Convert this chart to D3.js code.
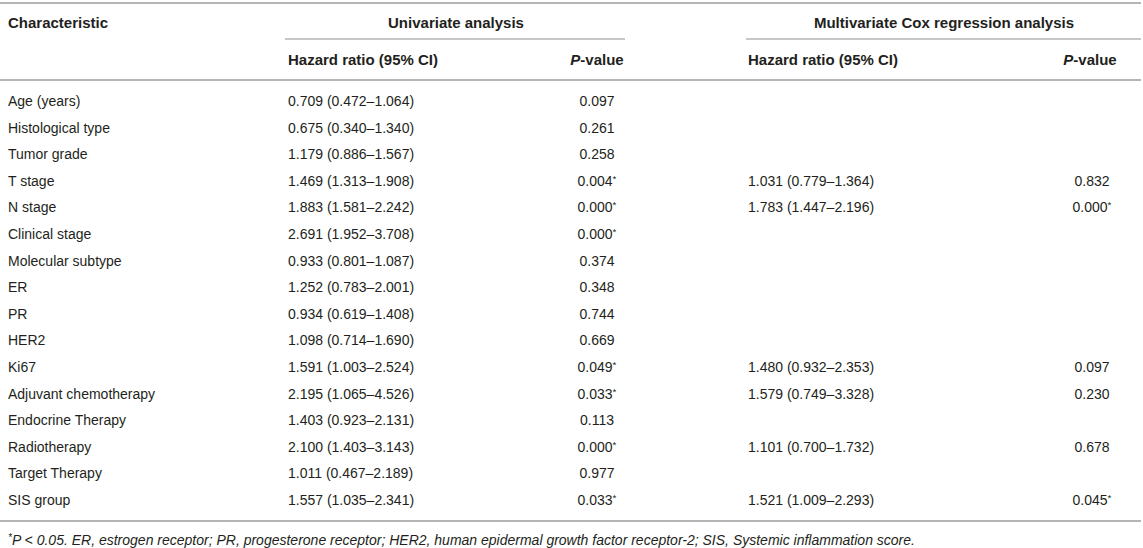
<!DOCTYPE html>
<html>
<head>
<meta charset="utf-8">
<script src="https://cdn.jsdelivr.net/npm/d3@7"></script>
<style>
  body { margin: 0; background: #fff; }
  text { font-family: "Liberation Sans", Arial, sans-serif; fill: #231f20; }
  .head { font-weight: bold; }
</style>
</head>
<body>
<div id="tbl"></div>
<script>
var width = 1143
var height = 548

const characteristics = ["Age (years)", "Histological type", "Tumor grade", "T stage", "N stage",
  "Clinical stage", "Molecular subtype", "ER", "PR", "HER2", "Ki67", "Adjuvant chemotherapy",
  "Endocrine Therapy", "Radiotherapy", "Target Therapy", "SIS group"];
const uniHR = ["0.709 (0.472–1.064)", "0.675 (0.340–1.340)", "1.179 (0.886–1.567)", "1.469 (1.313–1.908)",
  "1.883 (1.581–2.242)", "2.691 (1.952–3.708)", "0.933 (0.801–1.087)", "1.252 (0.783–2.001)",
  "0.934 (0.619–1.408)", "1.098 (0.714–1.690)", "1.591 (1.003–2.524)", "2.195 (1.065–4.526)",
  "1.403 (0.923–2.131)", "2.100 (1.403–3.143)", "1.011 (0.467–2.189)", "1.557 (1.035–2.341)"];
const uniP = ["0.097", "0.261", "0.258", "0.004*", "0.000*", "0.000*", "0.374", "0.348",
  "0.744", "0.669", "0.049*", "0.033*", "0.113", "0.000*", "0.977", "0.033*"];
const multiHR = ["", "", "", "1.031 (0.779–1.364)", "1.783 (1.447–2.196)", "", "", "",
  "", "", "1.480 (0.932–2.353)", "1.579 (0.749–3.328)", "", "1.101 (0.700–1.732)", "", "1.521 (1.009–2.293)"];
const multiP = ["", "", "", "0.832", "0.000*", "", "", "",
  "", "", "0.097", "0.230", "", "0.678", "", "0.045*"];
const footnote = "P < 0.05. ER, estrogen receptor; PR, progesterone receptor; HER2, human epidermal growth factor receptor-2; SIS, Systemic inflammation score.";

const svg = d3.select("#tbl").append("svg")
  .attr("width", width)
  .attr("height", height)

const fs = 14;      // body
const hfs = 15;     // bold headers
const lineColor = "#b5b5b5";

// rows
const y = d3.scalePoint()
  .domain(characteristics)
  .range([101, 500]);

// columns
const col = { char: 8, uniHR: 288, uniP: 597, multiHR: 748, multiP: 1092 };

const hline = (x1, x2, yy, w) => svg.append("line")
  .attr("x1", x1).attr("x2", x2).attr("y1", yy).attr("y2", yy)
  .attr("stroke", lineColor).attr("stroke-width", w);

hline(0, 1141, 3, 2);
hline(285, 625, 39, 1.5);
hline(746, 1141, 39, 1.5);
hline(0, 1141, 80, 2);
hline(0, 1141, 521, 2);

// header texts
svg.append("text").attr("class", "head").attr("x", col.char).attr("y", 28)
  .attr("font-size", hfs).text("Characteristic");
svg.append("text").attr("class", "head").attr("x", 456).attr("y", 28)
  .attr("text-anchor", "middle").attr("font-size", hfs).text("Univariate analysis");
svg.append("text").attr("class", "head").attr("x", 944).attr("y", 28)
  .attr("text-anchor", "middle").attr("font-size", hfs).text("Multivariate Cox regression analysis");

[col.uniHR, col.multiHR].forEach(x => {
  svg.append("text").attr("class", "head").attr("x", x).attr("y", 65)
    .attr("font-size", hfs).text("Hazard ratio (95% CI)");
});
[597, 1090].forEach(x => {
  const t = svg.append("text").attr("class", "head").attr("x", x).attr("y", 65)
    .attr("text-anchor", "middle").attr("font-size", hfs);
  t.append("tspan").attr("font-style", "italic").text("P");
  t.append("tspan").text("-value");
});

// cell writer: asterisk as small raised mark
const cell = (sel, str) => {
  const star = str.endsWith("*");
  sel.append("tspan").text(star ? str.slice(0, -1) : str);
  if (star) sel.append("tspan").attr("font-size", fs * 0.7).attr("dy", -4).text("*");
};

const rows = svg.append("g").selectAll("g")
  .data(characteristics)
  .join("g")
  .attr("transform", d => `translate(0, ${y(d) + 5})`);

rows.append("text").attr("x", col.char).attr("font-size", fs).text(d => d);
rows.append("text").attr("x", col.uniHR).attr("font-size", fs).text((d, i) => uniHR[i]);
rows.append("text").attr("x", col.uniP).attr("text-anchor", "middle").attr("font-size", fs)
  .each(function(d, i) { cell(d3.select(this), uniP[i]); });
rows.append("text").attr("x", col.multiHR).attr("font-size", fs).text((d, i) => multiHR[i]);
rows.append("text").attr("x", col.multiP).attr("text-anchor", "middle").attr("font-size", fs)
  .each(function(d, i) { cell(d3.select(this), multiP[i]); });

// footnote
const fn = svg.append("text").attr("x", col.char).attr("y", 545)
  .attr("font-size", 14).attr("font-style", "italic");
fn.append("tspan").attr("font-size", 10).attr("dy", -4).text("*");
fn.append("tspan").attr("dy", 4).text(footnote);
</script>
</body>
</html>
